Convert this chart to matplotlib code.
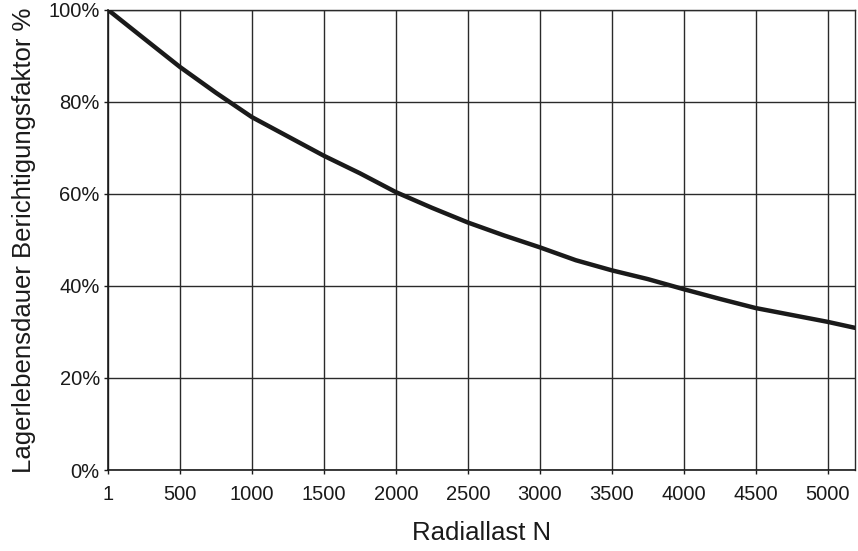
import matplotlib.pyplot as plt
from matplotlib.ticker import FuncFormatter

# load (N) and correction factor (%)
radial_load = [1, 250, 500, 750, 1000, 1250, 1500, 1750, 2000, 2250, 2500,
               2750, 3000, 3250, 3500, 3750, 4000, 4250, 4500, 4750, 5000, 5190]
life_factor = [100, 93.8, 87.6, 82.0, 76.7, 72.5, 68.3, 64.5, 60.4, 57.0, 53.8,
               51.0, 48.4, 45.6, 43.4, 41.5, 39.3, 37.2, 35.2, 33.7, 32.2, 30.9]

x_ticks = [1, 500, 1000, 1500, 2000, 2500, 3000, 3500, 4000, 4500, 5000]
y_ticks = [0, 20, 40, 60, 80, 100]

plt.rcParams["font.family"] = ["Liberation Sans", "DejaVu Sans"]

fig = plt.figure(figsize=(8.58, 5.51), dpi=100)
ax = fig.add_axes([0.126, 0.147, 0.8705, 0.835])

ax.plot(radial_load, life_factor, color="#1a1a1a", lw=3.2, solid_capstyle="round", zorder=3)

ax.set_xlim(1, 5190)
ax.set_ylim(0, 100)
ax.set_xticks(x_ticks)
ax.set_yticks(y_ticks)
ax.yaxis.set_major_formatter(FuncFormatter(lambda v, _: f"{v:.0f}%"))

ax.grid(True, color="#2a2a2a", lw=1.0)
ax.set_axisbelow(True)
for side in ["left", "bottom"]:
    ax.spines[side].set_color("#1a1a1a")
    ax.spines[side].set_linewidth(1.2)
for side in ["top", "right"]:
    ax.spines[side].set_color("#2a2a2a")
    ax.spines[side].set_linewidth(1.0)

ax.tick_params(direction="out", length=3, width=1.0, color="#1a1a1a",
               labelsize=14.5, labelcolor="#1a1a1a")
ax.tick_params(axis="x", pad=8)
ax.tick_params(axis="y", pad=3)

ax.set_xlabel("Radiallast N", fontsize=18.5, color="#1a1a1a", labelpad=12)
ax.set_ylabel("Lagerlebensdauer Berichtigungsfaktor %", fontsize=18.5, color="#1a1a1a", labelpad=9)

fig.savefig("out.png", dpi=100)
